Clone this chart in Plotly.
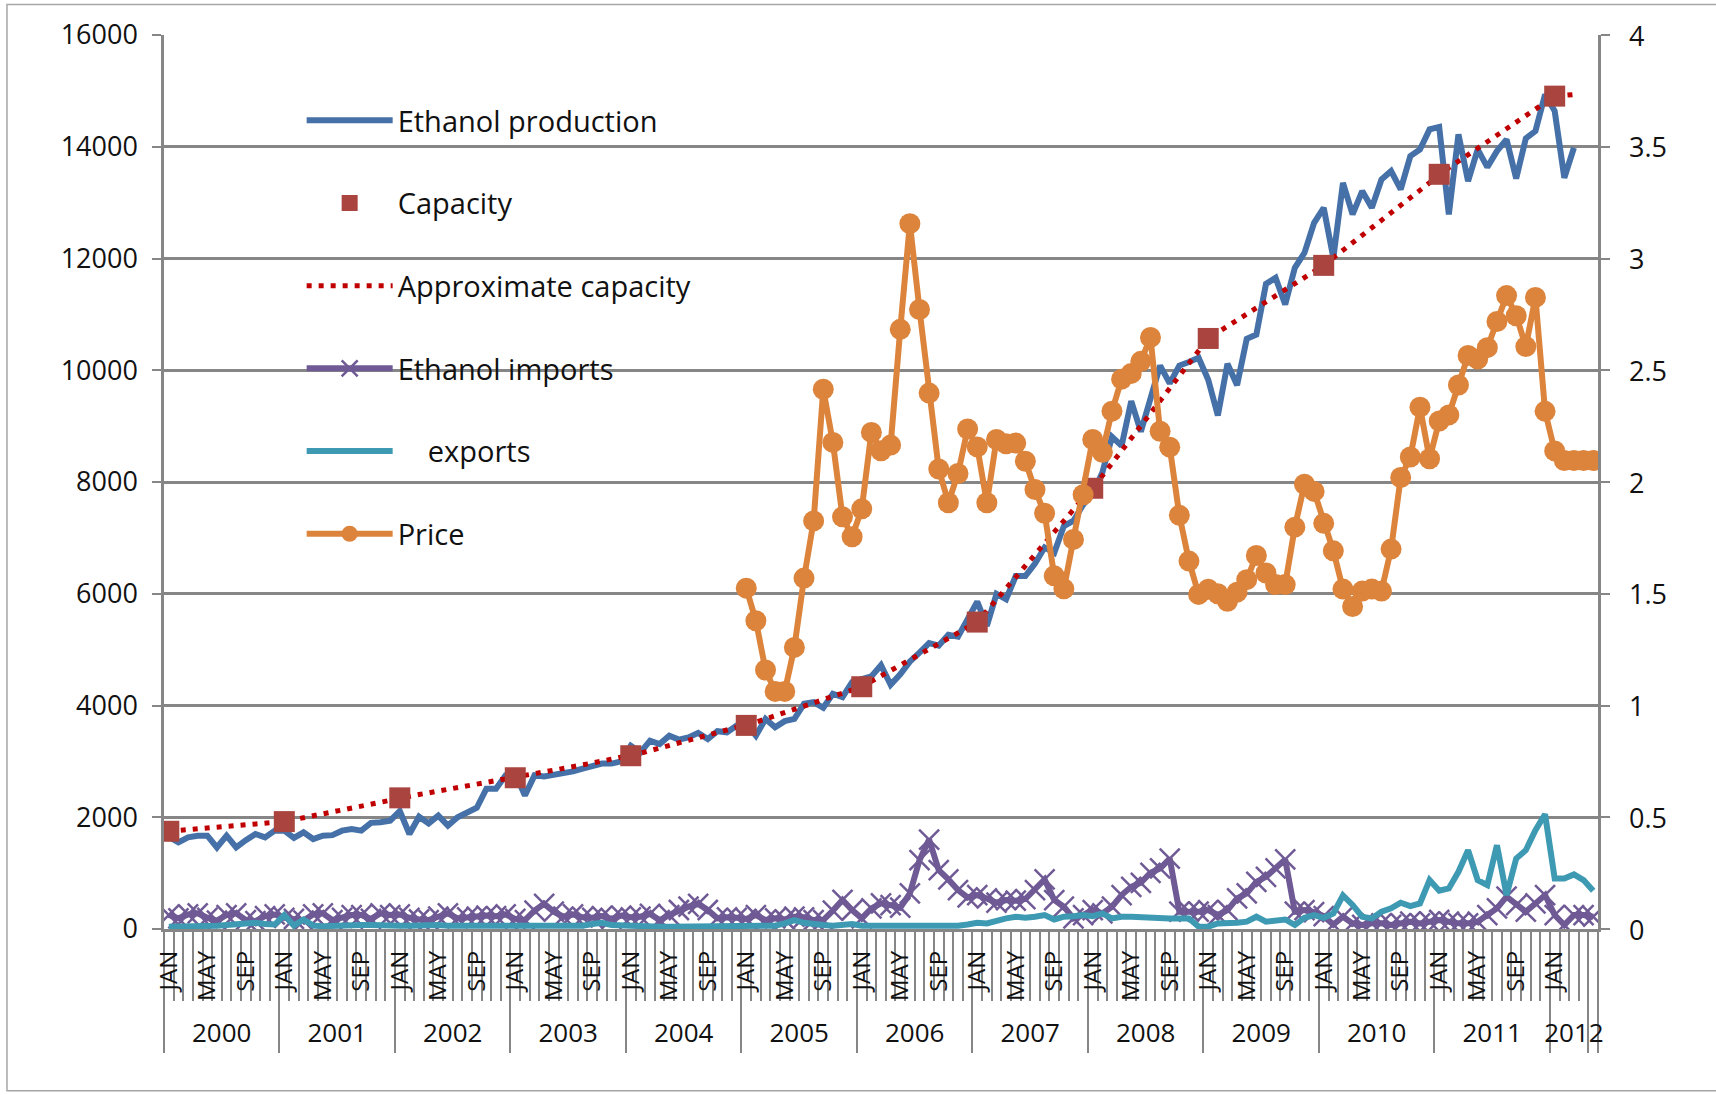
import plotly.graph_objects as go

# ---------------- data ----------------
years = ["2000", "2001", "2002", "2003", "2004", "2005", "2006",
         "2007", "2008", "2009", "2010", "2011", "2012"]
months_in_year = [12, 12, 12, 12, 12, 12, 12, 12, 12, 12, 12, 12, 5]
month_names = ["JAN", "FEB", "MAR", "APR", "MAY", "JUN",
               "JUL", "AUG", "SEP", "OCT", "NOV", "DEC"]
shown_months = ["JAN", "MAY", "SEP"]

# Ethanol production, Jan 2000 - Mar 2012
production = [
    1650, 1550, 1640, 1670, 1670, 1460, 1670, 1460, 1590, 1700, 1640, 1760,
    1760, 1630, 1730, 1610, 1670, 1680, 1760, 1790, 1760, 1900, 1910, 1940,
    2110, 1700, 2010, 1890, 2030, 1850, 2000, 2090, 2170, 2510, 2510, 2750,
    2780, 2390, 2750, 2730, 2760, 2780, 2820, 2870, 2910, 2960, 2960, 3000,
    3280, 3160, 3370, 3310, 3460, 3390, 3430, 3510, 3400, 3540, 3520, 3640,
    3670, 3460, 3760, 3610, 3720, 3760, 4030, 4060, 3960, 4210, 4150, 4420,
    4470, 4520, 4720, 4370, 4560, 4785, 4945, 5117, 5072, 5264, 5232, 5550,
    5858, 5424, 5998, 5902, 6317, 6317, 6541, 6828, 6732, 7211, 7307, 7594,
    7786, 8169, 8807, 8648, 9446, 8903, 9510, 10084, 9765, 10084, 10148, 10225,
    9829, 9190, 10116, 9733, 10563, 10639, 11546, 11654, 11176, 11833, 12102, 12639,
    12907, 12012, 13355, 12788, 13206, 12907, 13415, 13564, 13236, 13833, 13952, 14310,
    14352, 12788, 14221, 13385, 13952, 13636, 13922, 14131, 13433, 14149, 14281, 14937,
    14639, 13445, 13982,
]

# Capacity (January of each year)
capacity = [1749, 1922, 2347, 2707, 3101, 3644, 4336, 5493, 7888, 10569, 11877, 13507, 14906]

# Approximate capacity, Jan 2000 - Mar 2012
approx_capacity = [
    1749, 1763, 1778, 1792, 1807, 1821, 1836, 1850, 1864, 1879, 1893, 1908,
    1922, 1957, 1993, 2028, 2064, 2099, 2135, 2170, 2205, 2241, 2276, 2312,
    2347, 2377, 2407, 2437, 2467, 2497, 2527, 2557, 2587, 2617, 2647, 2677,
    2707, 2740, 2773, 2806, 2838, 2871, 2904, 2937, 2970, 3002, 3035, 3068,
    3101, 3146, 3192, 3237, 3282, 3327, 3373, 3418, 3463, 3508, 3554, 3599,
    3644, 3702, 3759, 3817, 3875, 3932, 3990, 4048, 4105, 4163, 4221, 4278,
    4336, 4432, 4529, 4625, 4722, 4818, 4915, 5011, 5107, 5204, 5300, 5397,
    5493, 5693, 5892, 6092, 6291, 6491, 6691, 6890, 7090, 7289, 7489, 7688,
    7888, 8111, 8335, 8558, 8782, 9005, 9229, 9452, 9675, 9899, 10122, 10346,
    10569, 10678, 10787, 10896, 11005, 11114, 11223, 11332, 11441, 11550, 11659, 11768,
    11877, 12013, 12149, 12285, 12420, 12556, 12692, 12828, 12964, 13100, 13235, 13371,
    13507, 13624, 13740, 13857, 13973, 14090, 14207, 14323, 14440, 14556, 14673, 14789,
    14906, 14920, 14935,
]

# Ethanol imports, Jan 2000 - May 2012
imports = [
    250, 190, 260, 280, 200, 150, 250, 280, 160, 140, 230, 260,
    200, 180, 150, 260, 280, 160, 200, 250, 250, 180, 280, 250,
    260, 200, 170, 160, 220, 280, 190, 210, 220, 240, 230, 260,
    180, 160, 330, 450, 310, 220, 260, 210, 200, 230, 180, 240,
    210, 220, 270, 160, 250, 340, 400, 450, 340, 190, 210, 200,
    180, 250, 160, 190, 170, 220, 210, 160, 160, 330, 520, 340,
    190, 369, 458, 428, 381, 637, 1232, 1601, 1053, 887, 696, 565,
    607, 547, 470, 518, 506, 536, 696, 887, 518, 399, 190, 250,
    339, 280, 399, 607, 756, 827, 1006, 1083, 1261, 309, 309, 309,
    339, 250, 339, 547, 637, 845, 934, 1083, 1244, 309, 339, 300,
    230, 80, 220, 101, 72, 101, 101, 72, 101, 131, 101, 131,
    161, 131, 101, 101, 131, 250, 369, 578, 428, 309, 458, 608,
    250, 72, 250, 250, 220,
]

# Ethanol exports, Jan 2000 - May 2012
exports = [
    40, 40, 40, 40, 50, 60, 70, 90, 110, 110, 90, 80,
    250, 60, 170, 60, 50, 60, 60, 60, 70, 70, 60, 60,
    60, 60, 70, 80, 70, 60, 60, 60, 60, 60, 70, 60,
    60, 70, 60, 60, 70, 60, 50, 60, 90, 110, 70, 60,
    50, 40, 40, 40, 40, 40, 40, 40, 40, 40, 40, 40,
    40, 40, 40, 60, 100, 160, 110, 80, 70, 60, 70, 90,
    60, 60, 60, 60, 60, 60, 50, 50, 40, 40, 60, 80,
    110, 100, 150, 190, 220, 200, 220, 250, 170, 220, 230, 250,
    230, 280, 190, 220, 220, 210, 190, 175, 190, 190, 190, 42,
    42, 100, 100, 110, 131, 220, 130, 160, 170, 71, 200, 250,
    200, 280, 600, 430, 220, 190, 309, 369, 470, 410, 458, 875,
    684, 726, 1023, 1410, 875, 785, 1499, 607, 1261, 1410, 1767, 2053,
    904, 904, 976, 875, 684,
]

# Price (right axis), Jan 2005 - May 2012
price_start_year = "2005"
price = [
    1.525, 1.379, 1.159, 1.063, 1.063, 1.26, 1.57, 1.826, 2.415, 2.177, 1.844, 1.755,
    1.88, 2.222, 2.14, 2.165, 2.683, 3.156, 2.772, 2.398, 2.058, 1.907, 2.038, 2.237,
    2.157, 1.907, 2.19, 2.171, 2.174, 2.093, 1.966, 1.86, 1.58, 1.522, 1.743, 1.943,
    2.19, 2.133, 2.317, 2.46, 2.486, 2.54, 2.647, 2.227, 2.156, 1.851, 1.646, 1.497,
    1.52, 1.5, 1.466, 1.507, 1.563, 1.671, 1.593, 1.541, 1.541, 1.798, 1.99, 1.958,
    1.815, 1.692, 1.521, 1.443, 1.512, 1.521, 1.512, 1.7, 2.02, 2.112, 2.335, 2.104,
    2.273, 2.3, 2.434, 2.566, 2.55, 2.601, 2.718, 2.834, 2.744, 2.606, 2.826, 2.316,
    2.139, 2.096, 2.096, 2.096, 2.096,
]

left_ticks = [0, 2000, 4000, 6000, 8000, 10000, 12000, 14000, 16000]
right_ticks = [0, 0.5, 1, 1.5, 2, 2.5, 3, 3.5, 4]
right_tick_text = ["0", "0.5", "1", "1.5", "2", "2.5", "3", "3.5", "4"]

# ---------------- derived category positions ----------------
n_months = sum(months_in_year)
month_idx = list(range(n_months))
year_start = []
k = 0
for n in months_in_year:
    year_start.append(k)
    k += n
cap_x = year_start[:len(capacity)]
price_x0 = year_start[years.index(price_start_year)]
price_x = month_idx[price_x0:price_x0 + len(price)]

month_tick_vals, month_tick_text = [], []
for ys, n in zip(year_start, months_in_year):
    for m in range(n):
        i = ys + m
        if month_names[m] in shown_months and i < n_months - 1:
            month_tick_vals.append(i)
            month_tick_text.append(month_names[m])
year_centers = [ys + (n - 1) / 2 for ys, n in zip(year_start, months_in_year)]
year_bounds = [ys - 0.5 for ys in year_start] + [n_months - 1.5, n_months - 0.5]
month_bounds = [i - 0.5 for i in range(n_months + 1)]

# ---------------- styles ----------------
FONT = "Open Sans"
TXT = "#111111"
GRID = "#868686"
BLUE = "#4571A8"
RED = "#A9443F"
DOTRED = "#C00000"
PURPLE = "#6F5A95"
TEAL = "#3E9AB2"
ORANGE = "#DC843C"

fig = go.Figure()
fig.add_trace(go.Scatter(
    x=month_idx[:len(production)], y=production, name="Ethanol production",
    mode="lines", line=dict(color=BLUE, width=6), legendgroup="a", legendrank=1))
fig.add_trace(go.Scatter(
    x=month_idx[:len(approx_capacity)], y=approx_capacity, name="Approximate capacity",
    mode="lines", line=dict(color=DOTRED, width=5, dash="5px,7px"),
    legendgroup="c", legendrank=3))
fig.add_trace(go.Scatter(
    x=cap_x, y=capacity, name="Capacity", mode="markers",
    marker=dict(symbol="square", size=21, color=RED), legendgroup="b", legendrank=2))
fig.add_trace(go.Scatter(
    x=month_idx[:len(imports)], y=imports, name="Ethanol imports",
    mode="lines+markers", line=dict(color=PURPLE, width=6),
    marker=dict(symbol="x-thin", size=20, color=PURPLE, line=dict(color=PURPLE, width=2.5)),
    legendgroup="d", legendrank=4))
fig.add_trace(go.Scatter(
    x=month_idx[:len(exports)], y=exports, name="\u00a0\u00a0\u00a0\u00a0exports",
    mode="lines", line=dict(color=TEAL, width=6), legendgroup="e", legendrank=5))
fig.add_trace(go.Scatter(
    x=price_x, y=price, name="Price", yaxis="y2",
    mode="lines+markers", line=dict(color=ORANGE, width=6),
    marker=dict(symbol="circle", size=21, color=ORANGE), legendgroup="f", legendrank=6))

# invisible helper traces so the label axes exist
fig.add_trace(go.Scatter(x=[month_idx[0]], y=[None], xaxis="x2", showlegend=False, hoverinfo="skip"))
fig.add_trace(go.Scatter(x=[month_idx[0]], y=[None], xaxis="x3", showlegend=False, hoverinfo="skip"))

xr = [-0.5, n_months - 0.5]

# right-axis labels, left-aligned like the original
right_labels = [dict(xref="paper", yref="y2", x=1.0202, y=v, text=t,
                     xanchor="left", yanchor="middle", showarrow=False,
                     font=dict(family=FONT, size=27, color=TXT))
                for v, t in zip(right_ticks, right_tick_text)]

fig.update_layout(
    width=1716, height=1095, autosize=False,
    margin=dict(l=164, r=118, t=35, b=166, pad=0),
    paper_bgcolor="white", plot_bgcolor="white",
    font=dict(family=FONT, color=TXT, size=27),
    showlegend=True,
    legend=dict(
        x=0.096, y=0.933, xanchor="left", yanchor="top",
        bgcolor="rgba(0,0,0,0)", borderwidth=0,
        font=dict(family=FONT, size=29, color=TXT),
        traceorder="grouped", tracegroupgap=42, itemwidth=86,
    ),
    xaxis=dict(
        range=xr, showgrid=False, zeroline=False,
        showline=True, linecolor=GRID, linewidth=2.5,
        tickmode="array", tickvals=year_bounds, ticks="outside",
        ticklen=121, tickwidth=2, tickcolor=GRID, showticklabels=False,
        minor=dict(tickmode="array", tickvals=month_bounds, ticks="outside",
                   ticklen=69, tickwidth=2, tickcolor=GRID, showgrid=False),
    ),
    xaxis2=dict(
        range=xr, overlaying="x", anchor="y", side="bottom",
        showgrid=False, zeroline=False, showline=False,
        tickmode="array", tickvals=month_tick_vals, ticktext=month_tick_text,
        tickangle=-90, ticks="", ticklabelstandoff=16,
        tickfont=dict(family=FONT, size=24, color=TXT),
    ),
    xaxis3=dict(
        range=xr, overlaying="x", anchor="y", side="bottom",
        showgrid=False, zeroline=False, showline=False,
        tickmode="array", tickvals=year_centers, ticktext=years,
        ticks="", ticklabelstandoff=86,
        tickfont=dict(family=FONT, size=26, color=TXT),
    ),
    yaxis=dict(
        range=[0, 16000], tickmode="array", tickvals=left_ticks,
        ticktext=[str(v) for v in left_ticks],
        showgrid=True, gridcolor=GRID, gridwidth=2.5, zeroline=False,
        showline=True, linecolor=GRID, linewidth=2.5,
        ticks="outside", ticklen=9, tickwidth=2, tickcolor=GRID,
        ticklabelstandoff=9, tickfont=dict(family=FONT, size=27, color=TXT),
    ),
    yaxis2=dict(
        range=[0, 4], overlaying="y", side="right", anchor="x",
        tickmode="array", tickvals=right_ticks, showticklabels=False,
        showgrid=False, zeroline=False,
        showline=True, linecolor=GRID, linewidth=2.5,
        ticks="outside", ticklen=9, tickwidth=2, tickcolor=GRID,
    ),
    annotations=right_labels,
    shapes=[dict(type="rect", xref="paper", yref="paper",
                 x0=-0.1095, x1=1.09, y0=-0.181, y1=1.034,
                 line=dict(color="#A6A6A6", width=1.5), fillcolor="rgba(0,0,0,0)",
                 layer="below")],
)

fig.write_html("out.html", config={"displayModeBar": False},
               post_script="document.body.style.margin='0';")
